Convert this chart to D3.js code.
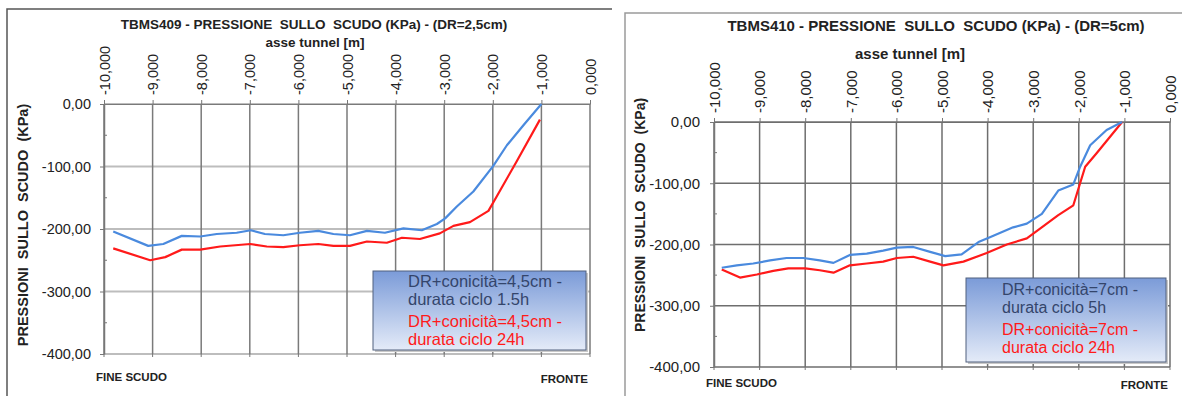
<!DOCTYPE html>
<html><head><meta charset="utf-8">
<script src="https://cdn.jsdelivr.net/npm/d3@7"></script>
<style>
html,body{margin:0;padding:0;background:#fff;}
svg{display:block;}
text{font-family:"Liberation Sans",Arial,sans-serif;white-space:pre;}
</style></head>
<body><svg id="c" width="1182" height="396"></svg>
<script>
// ---------- DATA ----------
const xTicks = [-10,-9,-8,-7,-6,-5,-4,-3,-2,-1,0];
const yTicks = [0,-100,-200,-300,-400];
const yMinorTicks = [-50,-150,-250,-350];

const titles = ["TBMS409 - PRESSIONE  SULLO  SCUDO (KPa) - (DR=2,5cm)",
                "TBMS410 - PRESSIONE  SULLO  SCUDO (KPa) - (DR=5cm)"];
const xAxisTitle = "asse tunnel [m]";
const yAxisTitle = "PRESSIONI  SULLO  SCUDO  (KPa)";
const leftEndLabel = "FINE SCUDO";
const rightEndLabel = "FRONTE";

const legend409 = [["DR+conicità=4,5cm -","durata ciclo 1.5h"],["DR+conicità=4,5cm -","durata ciclo 24h"]];
const legend410 = [["DR+conicità=7cm -","durata ciclo 5h"],["DR+conicità=7cm -","durata ciclo 24h"]];

const s409BlueX = [-9.81,-9.09,-8.78,-8.40,-8.02,-7.68,-7.27,-6.98,-6.69,-6.31,-5.97,-5.59,-5.28,-4.94,-4.59,-4.22,-3.84,-3.46,-3.15,-2.98,-2.74,-2.40,-1.99,-1.71,-1.37,-1.00];
const s409BlueY = [-204,-227,-224,-211,-212,-208,-206,-202,-208,-210,-206,-203,-208,-210,-203,-206,-199,-202,-192,-183,-164,-140,-99,-66,-34,0];
const s409RedX  = [-9.81,-9.05,-8.74,-8.40,-8.02,-7.61,-6.99,-6.65,-6.31,-5.97,-5.59,-5.28,-4.94,-4.59,-4.18,-3.87,-3.50,-3.09,-2.81,-2.47,-2.09,-1.92,-1.51,-1.03];
const s409RedY  = [-231,-250,-245,-233,-233,-228,-224,-228,-229,-226,-224,-227,-227,-220,-222,-214,-216,-207,-195,-189,-171,-148,-92,-25];

const s410BlueX = [-9.83,-9.50,-9.14,-8.77,-8.41,-8.04,-7.68,-7.38,-7.02,-6.65,-6.29,-5.99,-5.63,-5.26,-4.93,-4.57,-4.20,-3.95,-3.44,-3.14,-2.81,-2.45,-2.12,-1.97,-1.75,-1.39,-1.05];
const s410BlueY = [-238,-234,-231,-226,-222,-222,-226,-230,-217,-215,-210,-205,-204,-212,-219,-216,-196,-188,-172,-166,-150,-112,-102,-73,-38,-13,0];
const s410RedX  = [-9.83,-9.43,-9.06,-8.70,-8.37,-8.00,-7.68,-7.38,-7.02,-6.65,-6.29,-5.99,-5.63,-5.26,-4.97,-4.53,-4.02,-3.58,-3.14,-2.85,-2.45,-2.12,-1.86,-1.61,-1.05];
const s410RedY  = [-241,-254,-249,-243,-239,-239,-242,-246,-234,-231,-228,-222,-220,-228,-234,-228,-214,-200,-190,-174,-152,-136,-73,-51,0];

// ---------- DRAW ----------
const svg = d3.select("#c");
svg.append("rect").attr("width",1182).attr("height",396).attr("fill","#fff");

const defs = svg.append("defs");
const grad = defs.append("linearGradient").attr("id","lg").attr("x1",0).attr("y1",0).attr("x2",0).attr("y2",1);
grad.append("stop").attr("offset","0%").attr("stop-color","#7b9bd8");
grad.append("stop").attr("offset","100%").attr("stop-color","#e4ebf8");

const fmtX = d => (d<0?"-":"") + Math.abs(d).toFixed(3).replace(".",",");
const fmtY = d => (d<0?"-":"") + Math.abs(d).toFixed(2).replace(".",",");

function chart(cfg){
  const g = svg.append("g");
  g.append("path").attr("d",`M${cfg.panel[0]},396V${cfg.panel[1]}H${cfg.panel[2]}`)
    .attr("fill","none").attr("stroke",cfg.panelColor).attr("stroke-width",1.5);

  const x = d3.scaleLinear().domain([-10,0]).range([cfg.x0,cfg.x1]);
  const y = d3.scaleLinear().domain([-400,0]).range([cfg.y1,cfg.y0]);

  g.append("g").selectAll("line").data(yTicks).join("line")
    .attr("x1",x(-10)).attr("x2",x(0)).attr("y1",d=>y(d)).attr("y2",d=>y(d))
    .attr("stroke",cfg.hGrid).attr("stroke-width",cfg.hGridW);
  g.append("g").selectAll("line").data(xTicks).join("line")
    .attr("x1",d=>x(d)).attr("x2",d=>x(d)).attr("y1",y(0)).attr("y2",y(-400))
    .attr("stroke",cfg.vGrid).attr("stroke-width",1.5);

  const ax = g.append("g").attr("transform",`translate(0,${y(0)})`)
    .call(d3.axisTop(x).tickValues(xTicks).tickFormat(fmtX).tickSize(4).tickSizeOuter(0));
  ax.select(".domain").attr("stroke",cfg.vGrid);
  ax.selectAll(".tick line").attr("stroke","#777");
  ax.selectAll(".tick text").attr("transform","rotate(-90)").attr("text-anchor","start")
    .attr("x",9).attr("y",0).attr("dy","0.35em").attr("font-size",cfg.tickFont).attr("fill","#222")
    .attr("font-family","Liberation Sans, Arial, sans-serif");

  const ay = g.append("g").attr("transform",`translate(${x(-10)},0)`)
    .call(d3.axisLeft(y).tickValues(yTicks).tickFormat(fmtY).tickSize(4).tickSizeOuter(0));
  ay.select(".domain").attr("stroke","#777").attr("stroke-width",1.5);
  ay.selectAll(".tick line").attr("stroke","#777");
  ay.selectAll(".tick text").attr("x",-cfg.yLabGap).attr("font-size",cfg.yFont).attr("fill","#222")
    .attr("font-family","Liberation Sans, Arial, sans-serif");
  g.append("g").selectAll("line").data(yMinorTicks).join("line")
    .attr("x1",x(-10)).attr("x2",x(-10)+3).attr("y1",d=>y(d)).attr("y2",d=>y(d))
    .attr("stroke","#777");
  g.append("g").selectAll("line").data(xTicks).join("line")
    .attr("x1",d=>x(d)).attr("x2",d=>x(d)).attr("y1",y(-400)).attr("y2",y(-400)+3)
    .attr("stroke","#777");

  g.append("text").attr("x",cfg.titleX).attr("y",cfg.titleY).attr("text-anchor","middle")
    .attr("font-weight","bold").attr("font-size",cfg.titleFont).attr("fill","#222").text(cfg.title);
  g.append("text").attr("x",cfg.subX).attr("y",cfg.subY).attr("text-anchor","middle")
    .attr("font-weight","bold").attr("font-size",cfg.titleFont).attr("fill","#222").text(xAxisTitle);
  g.append("text").attr("transform",`translate(${cfg.yTitleX},${cfg.yTitleY}) rotate(-90)`)
    .attr("text-anchor","middle").attr("dy","0.35em").attr("font-weight","bold")
    .attr("font-size",cfg.yTitleFont).attr("fill","#222").text(yAxisTitle);
  g.append("text").attr("x",x(-10)-8).attr("y",cfg.endY).attr("font-weight","bold")
    .attr("font-size",11.5).attr("fill","#222").text(leftEndLabel);
  g.append("text").attr("x",x(0)-2).attr("y",cfg.endY+2).attr("text-anchor","end").attr("font-weight","bold")
    .attr("font-size",11.5).attr("fill","#222").text(rightEndLabel);

  const line = d3.line().x(d=>x(d[0])).y(d=>y(d[1]));
  const blue = cfg.blueX.map((v,i)=>[v,cfg.blueY[i]]);
  const red = cfg.redX.map((v,i)=>[v,cfg.redY[i]]);
  g.append("path").attr("d",line(red)).attr("fill","none").attr("stroke","#ff1a1a").attr("stroke-width",2.2).attr("stroke-linejoin","round");
  g.append("path").attr("d",line(blue)).attr("fill","none").attr("stroke","#4a8ade").attr("stroke-width",2.2).attr("stroke-linejoin","round");

  const L = cfg.legend;
  g.append("rect").attr("x",L.x+2).attr("y",L.y+2).attr("width",L.w).attr("height",L.h).attr("fill","#c8c8c8");
  g.append("rect").attr("x",L.x).attr("y",L.y).attr("width",L.w).attr("height",L.h)
    .attr("fill","url(#lg)").attr("stroke","#50607e").attr("stroke-width",1);
  const cols = ["#34456b","#ff1a1a"];
  cfg.legendText.forEach((entry,i)=>{
    entry.forEach((t,j)=>{
      g.append("text").attr("x",L.tx).attr("y",L.ty + (i*2+j)*L.ls + (i?L.gap:0))
        .attr("font-size",L.fs).attr("fill",cols[i]).text(t);
    });
  });
}

chart({
  panel:[7,9,612], panelColor:"#555",
  x0:104, x1:590, y0:104, y1:354,
  hGrid:"#bdbdbd", hGridW:2, vGrid:"#7a7a7a",
  tickFont:14.5, yFont:14.5, yLabGap:13,
  title:titles[0], titleX:314, titleY:29, subX:315, subY:47, titleFont:13.5,
  yTitleX:23, yTitleY:225, yTitleFont:14.5,
  endY:381,
  blueX:s409BlueX, blueY:s409BlueY, redX:s409RedX, redY:s409RedY,
  legend:{x:373,y:271,w:213,h:79,tx:408,ty:287,ls:18,gap:4,fs:16.5},
  legendText:legend409
});
chart({
  panel:[625,13,1182], panelColor:"#9a9a9a",
  x0:714, x1:1170, y0:122, y1:367,
  hGrid:"#6e6e6e", hGridW:1.5, vGrid:"#6e6e6e",
  tickFont:15, yFont:15, yLabGap:14,
  title:titles[1], titleX:936, titleY:31, subX:910, subY:59, titleFont:15,
  yTitleX:640, yTitleY:215, yTitleFont:14,
  endY:387,
  blueX:s410BlueX, blueY:s410BlueY, redX:s410RedX, redY:s410RedY,
  legend:{x:966,y:278,w:200,h:84,tx:1002,ty:295,ls:18,gap:4,fs:16},
  legendText:legend410
});
</script></body></html>
